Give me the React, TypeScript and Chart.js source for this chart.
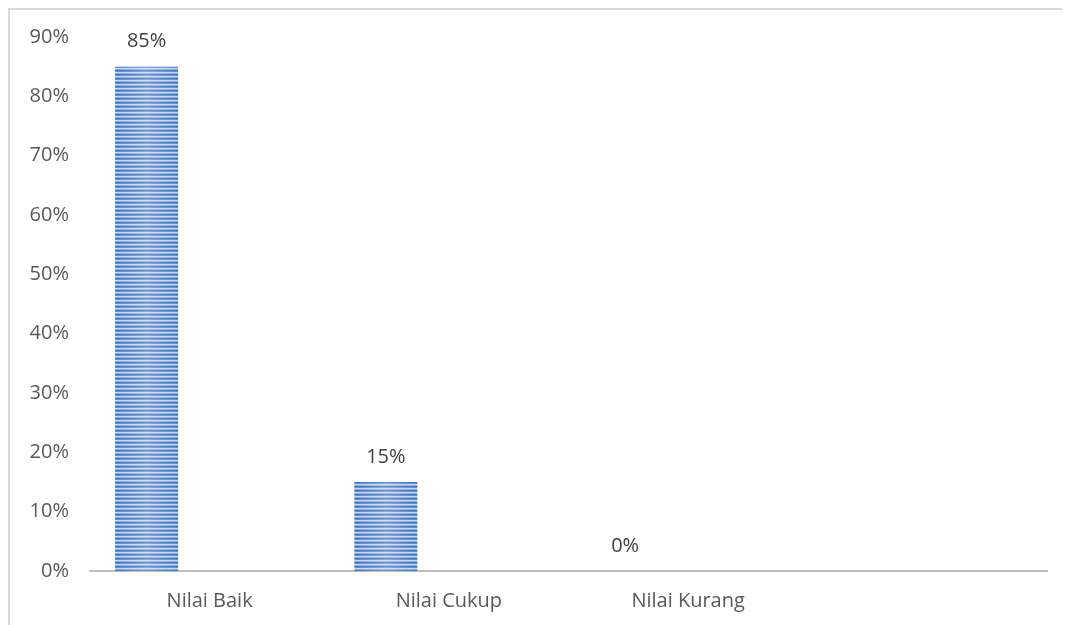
import { useEffect, useRef } from "react";
import { Chart, registerables } from "chart.js";

Chart.register(...registerables);

const categories = ["Nilai Baik", "Nilai Cukup", "Nilai Kurang", ""];
const nilaiValues: (number | null)[] = [0.85, 0.15, 0, null];
const emptySeries2: (number | null)[] = [null, null, null, null];
const emptySeries3: (number | null)[] = [null, null, null, null];
const yTickLabels = ["0%", "10%", "20%", "30%", "40%", "50%", "60%", "70%", "80%", "90%"];

const FONT = "'Open Sans', 'Noto Sans', sans-serif";

function makeStripePattern(): CanvasPattern | string {
  const c = document.createElement("canvas");
  c.width = 4;
  c.height = 4;
  const g = c.getContext("2d");
  if (!g) return "#6f98d6";
  const rows = ["#3f72bd", "#5f8bcf", "#c4d5ef", "#86a9dd"];
  rows.forEach((col, i) => {
    g.fillStyle = col;
    g.fillRect(0, i, 4, 1);
  });
  const p = g.createPattern(c, "repeat");
  return p || "#6f98d6";
}

const barShinePlugin = {
  id: "barShine",
  afterDatasetsDraw(chart: any) {
    const ctx = chart.ctx;
    const meta = chart.getDatasetMeta(0);
    meta.data.forEach((el: any) => {
      const { x, y, base, width } = el.getProps(["x", "y", "base", "width"], true);
      if (!isFinite(y) || Math.abs(base - y) < 0.5) return;
      const left = x - width / 2;
      const grad = ctx.createLinearGradient(left, 0, left + width, 0);
      grad.addColorStop(0, "rgba(255,255,255,0)");
      grad.addColorStop(0.5, "rgba(255,255,255,0.25)");
      grad.addColorStop(1, "rgba(255,255,255,0)");
      ctx.save();
      ctx.fillStyle = grad;
      ctx.fillRect(left, y, width, base - y);
      ctx.restore();
    });
  },
};

const valueLabelPlugin = {
  id: "valueLabels",
  afterDatasetsDraw(chart: any) {
    const ctx = chart.ctx;
    const ds = chart.data.datasets[0];
    const meta = chart.getDatasetMeta(0);
    ctx.save();
    ctx.font = `20px ${FONT}`;
    ctx.fillStyle = "#404040";
    ctx.textAlign = "center";
    ctx.textBaseline = "middle";
    meta.data.forEach((el: any, i: number) => {
      const v = ds.data[i];
      if (v === null || v === undefined) return;
      const { x, y } = el.getProps(["x", "y"], true);
      ctx.fillText(`${Math.round(v * 100)}%`, x, y - 25);
    });
    ctx.restore();
  },
};

export default function App() {
  const canvasRef = useRef<HTMLCanvasElement | null>(null);

  useEffect(() => {
    document.documentElement.style.overflow = "hidden";
    document.body.style.overflow = "hidden";
    const canvas = canvasRef.current;
    if (!canvas) return;
    const pattern = makeStripePattern();
    const chart = new Chart(canvas, {
      type: "bar",
      data: {
        labels: categories,
        datasets: [
          { label: "Nilai", data: nilaiValues, backgroundColor: pattern as any, borderWidth: 0 },
          { label: "Seri 2", data: emptySeries2, backgroundColor: "#c0504d" },
          { label: "Seri 3", data: emptySeries3, backgroundColor: "#9bbb59" },
        ],
      },
      options: {
        responsive: false,
        animation: false,
        maintainAspectRatio: false,
        layout: { padding: { top: 27, right: 23, bottom: 0, left: 0 } },
        datasets: {
          bar: { categoryPercentage: 0.79, barPercentage: 1 },
        },
        plugins: {
          legend: { display: false },
          title: { display: false },
          tooltip: { enabled: false },
        },
        scales: {
          x: {
            grid: { display: false, drawTicks: false },
            border: { display: true, color: "#bfbfbf", width: 2 },
            ticks: {
              color: "#595959",
              font: { family: FONT, size: 20 },
              padding: 18,
              maxRotation: 0,
              autoSkip: false,
            },
            afterFit: (scale: any) => {
              scale.height = 54;
              scale.paddingLeft = 0;
              scale.paddingRight = 0;
            },
          },
          y: {
            min: 0,
            max: 0.9,
            grid: { display: false, drawTicks: false },
            border: { display: false },
            ticks: {
              stepSize: 0.1,
              color: "#595959",
              font: { family: FONT, size: 20 },
              padding: 21,
              callback: (_v: any, i: number) => yTickLabels[i],
            },
            afterFit: (scale: any) => {
              scale.width = 80;
              scale.paddingTop = 0;
              scale.paddingBottom = 0;
            },
          },
        },
      },
      plugins: [barShinePlugin, valueLabelPlugin],
    });
    return () => chart.destroy();
  }, []);

  return (
    <div
      style={{
        width: 1070,
        height: 625,
        borderTop: "2px solid #d9d9d9",
        borderLeft: "2px solid #d9d9d9",
        background: "#ffffff",
      }}
    >
      <canvas ref={canvasRef} width={1060} height={615} style={{ display: "block" }} />
    </div>
  );
}
